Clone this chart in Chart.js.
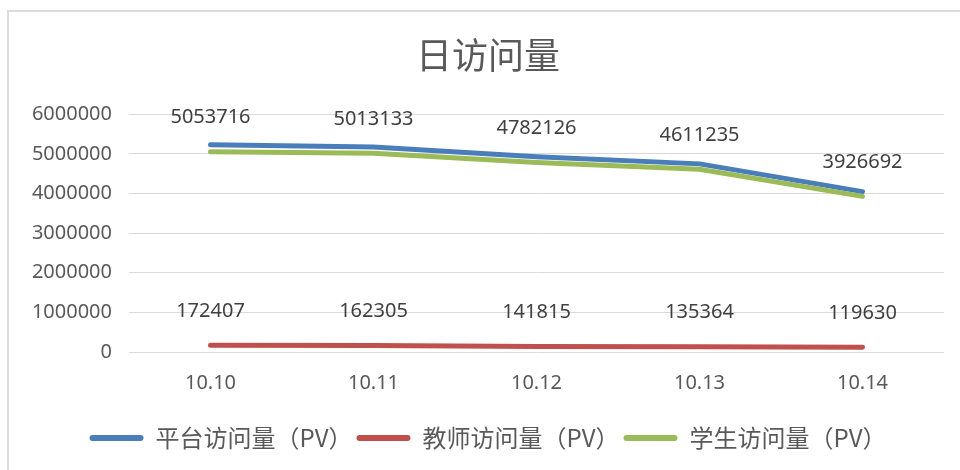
<!DOCTYPE html>
<html>
<head>
<meta charset="utf-8">
<script src="https://cdn.jsdelivr.net/npm/chart.js@4/dist/chart.umd.min.js"></script>
<style>
  html, body { margin: 0; padding: 0; background: #fff; }
  #wrap { position: relative; width: 960px; height: 470px; overflow: hidden; }
  #frame { position: absolute; left: 7px; top: 10px; width: 1000px; height: 500px; border: 2px solid #dcdcdc; box-sizing: border-box; }
  #c { position: absolute; left: 0; top: 0; }
</style>
</head>
<body>
<div id="wrap">
  <div id="frame"></div>
  <canvas id="c" width="960" height="470"></canvas>
</div>
<script>
const categories = ['10.10', '10.11', '10.12', '10.13', '10.14'];
const platformPV = [5226123, 5175438, 4923941, 4746599, 4046322];
const teacherPV = [172407, 162305, 141815, 135364, 119630];
const studentPV = [5053716, 5013133, 4782126, 4611235, 3926692];
const seriesNames = ['平台访问量（PV）', '教师访问量（PV）', '学生访问量（PV）'];
const yTicks = [0, 1000000, 2000000, 3000000, 4000000, 5000000, 6000000];
const titleText = '日访问量';

const FONT = "'Noto Sans', 'Noto Sans CJK SC', sans-serif";
const CJK = "'Noto Sans CJK SC', 'Noto Sans', sans-serif";

const labelPlugin = {
  id: 'pointLabels',
  afterDatasetsDraw(chart) {
    const ctx = chart.ctx;
    ctx.save();
    ctx.font = "20px " + FONT;
    ctx.fillStyle = '#404040';
    ctx.textAlign = 'center';
    ctx.textBaseline = 'middle';
    [1, 2].forEach(di => {
      const meta = chart.getDatasetMeta(di);
      const data = chart.data.datasets[di].data;
      meta.data.forEach((pt, i) => {
        ctx.fillText(String(data[i]), pt.x, pt.y - 34);
      });
    });
    ctx.restore();
  }
};

const line = (label, data, color) => ({
  label, data,
  borderColor: color,
  backgroundColor: color,
  borderWidth: 5,
  pointRadius: 0,
  pointHoverRadius: 0,
  tension: 0,
  borderCapStyle: 'round',
  borderJoinStyle: 'round',
  fill: false
});

new Chart(document.getElementById('c'), {
  type: 'line',
  data: {
    labels: categories,
    datasets: [
      Object.assign(line(seriesNames[0], platformPV, '#4A7EBB'), { order: 2 }),
      Object.assign(line(seriesNames[1], teacherPV, '#C0504D'), { order: 1 }),
      Object.assign(line(seriesNames[2], studentPV, '#9BBB59'), { order: 0 })
    ]
  },
  options: {
    responsive: false,
    animation: false,
    devicePixelRatio: 1,
    layout: { padding: { left: 32, right: 16, top: 28, bottom: 10 } },
    plugins: {
      title: {
        display: true,
        text: titleText,
        color: '#595959',
        font: { family: CJK, size: 36, weight: 'normal' },
        padding: { top: 6, bottom: 37 }
      },
      legend: {
        position: 'bottom',
        labels: {
          sort: (a, b) => a.datasetIndex - b.datasetIndex,
          generateLabels: (chart) => Chart.defaults.plugins.legend.labels.generateLabels(chart).map(l => Object.assign(l, { lineWidth: 0 })),
          color: '#595959',
          font: { family: CJK, size: 24 },
          boxWidth: 54,
          boxHeight: 6,
          padding: 4,
          useBorderRadius: true,
          borderRadius: 3
        }
      },
      tooltip: { enabled: false }
    },
    scales: {
      x: {
        offset: true,
        grid: { display: false, drawTicks: false },
        border: { display: false },
        ticks: { color: '#595959', font: { family: FONT, size: 20 }, padding: 19 },
        afterFit(s) { s.height = s.height + 8; }
      },
      y: {
        min: 0,
        max: 6000000,
        afterBuildTicks(s) { s.ticks = yTicks.map(v => ({ value: v })); },
        grid: { color: '#d9d9d9', lineWidth: 1, drawTicks: false },
        border: { display: false },
        ticks: { color: '#595959', font: { family: FONT, size: 20 }, padding: 17, callback: (v) => String(v) },
        afterFit(s) { s.width = 97; }
      }
    }
  },
  plugins: [labelPlugin]
});
</script>
</body>
</html>
